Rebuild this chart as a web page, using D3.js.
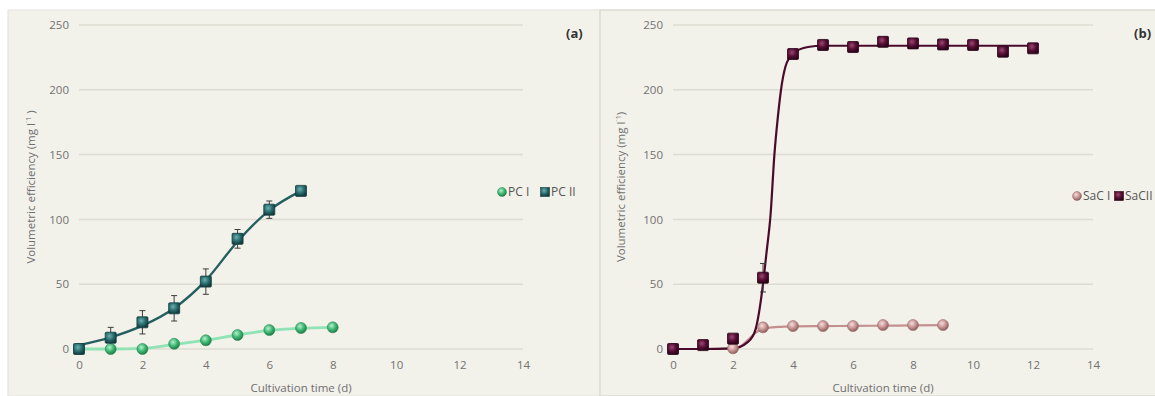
<!DOCTYPE html>
<html>
<head>
<meta charset="utf-8">
<script src="https://cdn.jsdelivr.net/npm/d3@7/dist/d3.min.js"></script>
<style>
  html, body { margin: 0; padding: 0; background: #ffffff; }
  svg { display: block; }
  text { font-family: "Open Sans", Lato, "DejaVu Sans", sans-serif; }
</style>
</head>
<body>
<svg id="chart" width="1155" height="396"></svg>
<script>
// ---- data ----
const days = [0, 1, 2, 3, 4, 5, 6, 7, 8, 9, 10, 11, 12];
const xTicks = [0, 2, 4, 6, 8, 10, 12, 14];
const yTicks = [0, 50, 100, 150, 200, 250];

// Panel (a): PC I and PC II
const pc1Values = [0, 0, 0, 4, 6.7, 10.8, 14.6, 16.2, 16.7];
const pc2Values = [0, 8.7, 20.6, 31.4, 52, 85, 107.5, 122];
const pc2Errors = [0, 8, 9, 9.8, 9.8, 7.2, 6.7, 2];
// fitted growth curves (day, value)
const pc1FitX = [0, 1, 2, 3, 4, 5, 6, 7, 8];
const pc1FitY = [0, 0, 0.5, 3.5, 6.8, 10.8, 14.4, 16, 16.7];
const pc2FitX = [0, 1, 2, 3, 4, 5, 6, 7];
const pc2FitY = [3, 9, 18, 31.5, 53, 83, 107, 122];

// Panel (b): SaC I and SaCII (day 1 of SaC I not shown)
const sac1Values = [0, null, 0.5, 16.7, 17.7, 17.7, 17.7, 18.5, 18.5, 18.5];
const sac2Values = [0, 3, 8, 55, 227.6, 234.6, 233, 237, 235.8, 235, 234.6, 229.4, 232];
const sac2Errors = [0, 0, 0, 11, 0, 0, 0, 0, 0, 0, 0, 0, 0];
const sac1FitX = [0, 1, 2, 2.25, 2.5, 2.75, 3, 3.5, 4, 5, 6, 7, 8, 9];
const sac1FitY = [0, 0, 0.3, 2, 7, 12.5, 15.5, 17, 17.5, 17.7, 17.8, 18, 18.2, 18.4];
const sac2FitX = [0, 1, 2, 2.5, 2.75, 3, 3.12, 3.25, 3.38, 3.5, 3.6, 3.75, 4, 4.5, 5, 6, 8, 10, 12];
const sac2FitY = [0, 0, 0.5, 5.5, 15, 50, 75, 103, 150, 180, 200, 218, 228, 233, 234, 234, 234, 234, 234];

const svg = d3.select("#chart");
const defs = svg.append("defs");

// sphere / tile gradients for markers
function sphere(id, light, mid, dark) {
  const g = defs.append("radialGradient").attr("id", id)
    .attr("cx", "40%").attr("cy", "35%").attr("r", "65%");
  g.append("stop").attr("offset", "0%").attr("stop-color", light);
  g.append("stop").attr("offset", "55%").attr("stop-color", mid);
  g.append("stop").attr("offset", "100%").attr("stop-color", dark);
}
sphere("g-pc1", "#b6f0cc", "#3fb873", "#1e7c48");
sphere("g-pc2", "#6fb0b0", "#2a6e70", "#123c3e");
sphere("g-sac1", "#f3dede", "#c99595", "#8c5d5d");
sphere("g-sac2", "#9a4a72", "#5a0f37", "#2c0519");

// panel backgrounds
svg.append("rect").attr("x", 8).attr("y", 10).attr("width", 592).attr("height", 386)
  .attr("fill", "#f2f1ea").attr("stroke", "#e3e2da").attr("stroke-width", 1);
svg.append("rect").attr("x", 600).attr("y", 10).attr("width", 560).attr("height", 386)
  .attr("fill", "#f2f1ea").attr("stroke", "#dcdbd2").attr("stroke-width", 1.5);

function drawPanel(p) {
  const x = d3.scaleLinear().domain([0, 14]).range([p.x0, p.x1]);
  const y = d3.scaleLinear().domain([0, 250]).range([349, 25]);
  const g = svg.append("g");

  // gridlines
  g.append("g").selectAll("line").data(yTicks).join("line")
    .attr("x1", p.x0).attr("x2", p.x1)
    .attr("y1", d => y(d)).attr("y2", d => y(d))
    .attr("stroke", "#dddcd3").attr("stroke-width", 1.5);

  // y axis labels
  const ya = g.append("g").attr("transform", `translate(${p.x0 - 10},0)`)
    .call(d3.axisLeft(y).tickValues(yTicks).tickSize(0).tickPadding(0));
  ya.select(".domain").remove();
  ya.selectAll("text").attr("fill", "#727272").style("font-size", "11.5px")
    .style("font-family", "\"Open Sans\", Lato, sans-serif");

  // x axis labels
  const xa = g.append("g").attr("transform", `translate(0,${361})`)
    .call(d3.axisBottom(x).tickValues(xTicks).tickSize(0).tickPadding(0));
  xa.select(".domain").remove();
  xa.selectAll("text").attr("fill", "#727272").style("font-size", "11.5px")
    .style("font-family", "\"Open Sans\", Lato, sans-serif");

  // axis titles
  g.append("text").attr("x", (p.x0 + p.x1) / 2).attr("y", 392)
    .attr("text-anchor", "middle").attr("fill", "#6f6f6f").style("font-size", "11.5px")
    .text("Cultivation time (d)");
  const yt = g.append("text")
    .attr("transform", `translate(${p.yTitleX},${y(125)}) rotate(-90)`)
    .attr("text-anchor", "middle").attr("fill", "#6f6f6f").style("font-size", "11.5px");
  yt.append("tspan").text("Volumetric efficiency (mg l");
  yt.append("tspan").attr("dy", -4).style("font-size", "7px").text("\u207B1");
  yt.append("tspan").attr("dy", 4).text(p.titleTail);

  // panel letter
  g.append("text").attr("x", p.letterX).attr("y", 38)
    .attr("fill", "#333").style("font-size", "13px").style("font-weight", "bold")
    .text(p.letter);

  const line = d3.line().x(d => x(d[0])).y(d => y(d[1])).curve(d3.curveMonotoneX);

  // series: lines first, then error bars, then markers
  p.series.forEach(s => {
    const pts = s.fitX.map((d, i) => [d, s.fitY[i]]);
    g.append("path").datum(pts).attr("d", line)
      .attr("fill", "none").attr("stroke", s.line).attr("stroke-width", s.lineWidth);
  });

  p.series.forEach(s => {
    const pts = s.values.map((v, i) => ({ d: days[i], v, e: s.errors ? s.errors[i] : 0 }));
    const eb = g.append("g").selectAll("g").data(pts.filter(d => d.e > 0)).join("g")
      .attr("stroke", "#3d3d3d").attr("stroke-width", 1);
    eb.append("line").attr("x1", d => x(d.d)).attr("x2", d => x(d.d))
      .attr("y1", d => y(d.v + d.e)).attr("y2", d => y(d.v - d.e));
    eb.append("line").attr("x1", d => x(d.d) - 3).attr("x2", d => x(d.d) + 3)
      .attr("y1", d => y(d.v + d.e)).attr("y2", d => y(d.v + d.e));
    eb.append("line").attr("x1", d => x(d.d) - 3).attr("x2", d => x(d.d) + 3)
      .attr("y1", d => y(d.v - d.e)).attr("y2", d => y(d.v - d.e));
  });

  p.drawOrder.forEach(k => {
    const s = p.series[k];
    const pts = s.values.map((v, i) => ({ d: days[i], v })).filter(d => d.v !== null);
    const mg = g.append("g");
    if (s.shape === "circle") {
      mg.selectAll("circle").data(pts).join("circle")
        .attr("cx", d => x(d.d)).attr("cy", d => y(d.v)).attr("r", 5.5)
        .attr("fill", `url(#${s.grad})`).attr("stroke", s.edge).attr("stroke-width", 0.6);
    } else {
      mg.selectAll("rect").data(pts).join("rect")
        .attr("x", d => x(d.d) - 5.5).attr("y", d => y(d.v) - 5.5)
        .attr("width", 11).attr("height", 11).attr("rx", 1)
        .attr("fill", `url(#${s.grad})`).attr("stroke", s.edge).attr("stroke-width", 0.8);
    }
  });

  // legend
  const lg = g.append("g").attr("transform", `translate(0,${p.legendY})`);
  p.series.forEach((s, i) => {
    const lx = p.legendX[i];
    if (s.shape === "circle") {
      lg.append("circle").attr("cx", lx).attr("cy", 0).attr("r", 4.5)
        .attr("fill", `url(#${s.grad})`).attr("stroke", s.edge).attr("stroke-width", 0.5);
    } else {
      lg.append("rect").attr("x", lx - 4.5).attr("y", -4.5).attr("width", 9).attr("height", 9)
        .attr("fill", `url(#${s.grad})`).attr("stroke", s.edge).attr("stroke-width", 0.6);
    }
    lg.append("text").attr("x", lx + 6).attr("y", 4).attr("fill", "#555")
      .style("font-size", "12px").text(s.name);
  });
}

drawPanel({
  x0: 79, x1: 523, yTitleX: 35, titleTail: " )", letter: "(a)", letterX: 566,
  legendY: 192, legendX: [502, 545],
  series: [
    { name: "PC I", values: pc1Values, fitX: pc1FitX, fitY: pc1FitY, shape: "circle",
      grad: "g-pc1", edge: "#2a8a55", line: "#8fe3b5", lineWidth: 2.8 },
    { name: "PC II", values: pc2Values, errors: pc2Errors, fitX: pc2FitX, fitY: pc2FitY,
      shape: "square", grad: "g-pc2", edge: "#143f40", line: "#245f61", lineWidth: 2.4 }
  ],
  drawOrder: [0, 1]
});

drawPanel({
  x0: 673, x1: 1093, yTitleX: 625, titleTail: ")", letter: "(b)", letterX: 1134,
  legendY: 196, legendX: [1077, 1119],
  series: [
    { name: "SaC I", values: sac1Values, fitX: sac1FitX, fitY: sac1FitY, shape: "circle",
      grad: "g-sac1", edge: "#9b6b6b", line: "#c49090", lineWidth: 2.2 },
    { name: "SaCII", values: sac2Values, errors: sac2Errors, fitX: sac2FitX, fitY: sac2FitY,
      shape: "square", grad: "g-sac2", edge: "#2a0418", line: "#4a0a2c", lineWidth: 2.2 }
  ],
  drawOrder: [0, 1]
});
</script>
</body>
</html>
